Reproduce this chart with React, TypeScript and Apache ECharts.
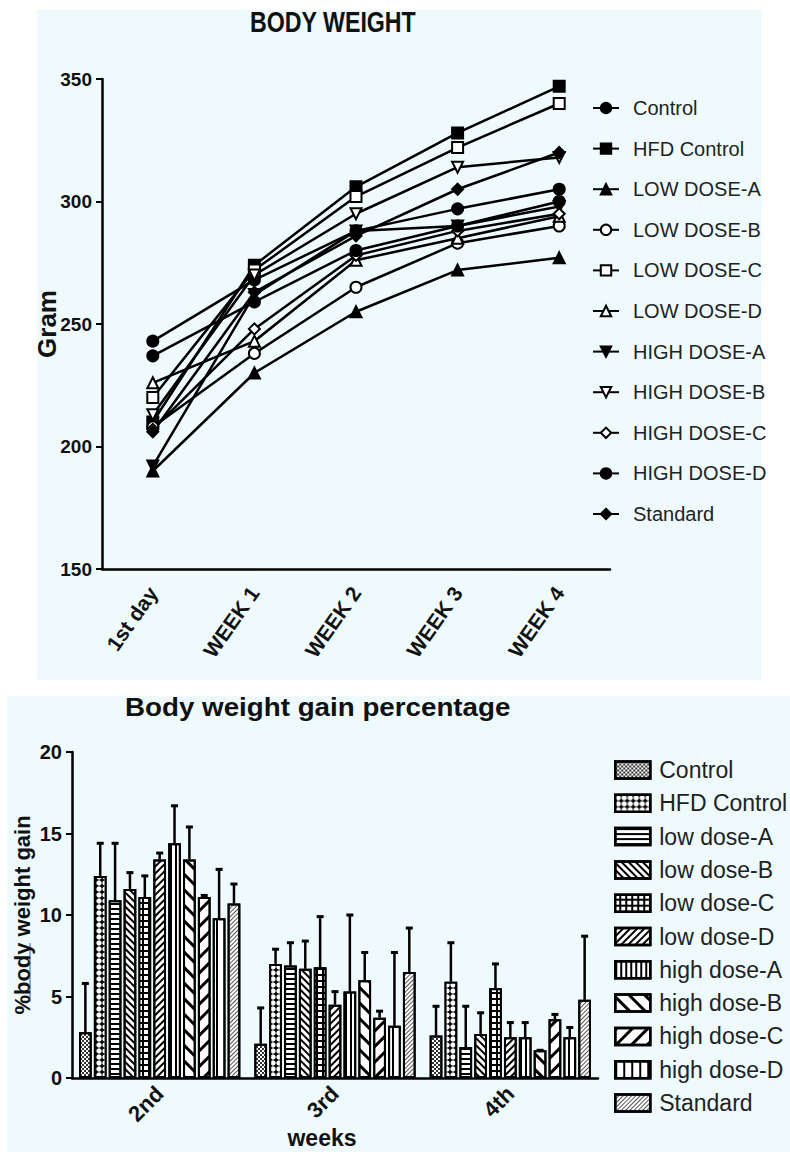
import React, { useEffect, useRef } from 'react';
import * as echarts from 'echarts';

// ---------- Top chart data: body weight (g) ----------
const timePoints = ['1st day', 'WEEK 1', 'WEEK 2', 'WEEK 3', 'WEEK 4'];
const lineGroups = ['Control', 'HFD Control', 'LOW DOSE-A', 'LOW DOSE-B', 'LOW DOSE-C', 'LOW DOSE-D', 'HIGH DOSE-A', 'HIGH DOSE-B', 'HIGH DOSE-C', 'HIGH DOSE-D', 'Standard'];
const wControl = [243, 268, 288, 297, 305];
const wHfdControl = [210, 274, 306, 328, 347];
const wLowA = [190, 230, 255, 272, 277];
const wLowB = [208, 238, 265, 283, 290];
const wLowC = [220, 272, 302, 322, 340];
const wLowD = [226, 243, 276, 285, 294];
const wHighA = [192, 262, 288, 290, 298];
const wHighB = [213, 270, 295, 314, 318];
const wHighC = [207, 248, 278, 288, 295];
const wHighD = [237, 259, 280, 290, 300];
const wStandard = [206, 263, 286, 305, 320];
const weightSeries = [wControl, wHfdControl, wLowA, wLowB, wLowC, wLowD, wHighA, wHighB, wHighC, wHighD, wStandard];
const weightAxis = { min: 150, max: 350, interval: 50 };

// ---------- Bottom chart data: body weight gain % ----------
const weekLabels = ['2nd', '3rd', '4th'];
const barGroups = ['Control', 'HFD Control', 'low dose-A', 'low dose-B', 'low dose-C', 'low dose-D', 'high dose-A', 'high dose-B', 'high dose-C', 'high dose-D', 'Standard'];
const gain2nd = [2.8, 12.4, 10.9, 11.6, 11.1, 13.4, 14.4, 13.4, 11.1, 9.8, 10.7];
const gain3rd = [2.1, 7.0, 6.9, 6.7, 6.8, 4.5, 5.3, 6.0, 3.7, 3.2, 6.5];
const gain4th = [2.6, 5.9, 1.9, 2.7, 5.5, 2.5, 2.5, 1.7, 3.6, 2.5, 4.8];
const err2nd = [3.0, 2.0, 3.5, 1.0, 1.3, 0.4, 2.3, 2.0, 0.1, 3.0, 1.2];
const err3rd = [2.2, 0.9, 1.4, 1.7, 3.1, 0.8, 4.7, 1.7, 0.4, 4.5, 2.7];
const err4th = [1.8, 2.4, 2.5, 1.3, 1.5, 0.9, 0.9, 0.0, 0.3, 0.6, 3.9];
const gainAxis = { min: 0, max: 20, interval: 5 };

const SANS = "'Liberation Sans', Arial, sans-serif";
const BG = '#eefafc';

const lineSymbols = [
  { symbol: 'circle', rotate: 0 },
  { symbol: 'rect', rotate: 0 },
  { symbol: 'triangle', rotate: 0 },
  { symbol: 'emptyCircle', rotate: 0 },
  { symbol: 'emptyRect', rotate: 0 },
  { symbol: 'emptyTriangle', rotate: 0 },
  { symbol: 'triangle', rotate: 180 },
  { symbol: 'emptyTriangle', rotate: 180 },
  { symbol: 'emptyDiamond', rotate: 0 },
  { symbol: 'circle', rotate: 0 },
  { symbol: 'diamond', rotate: 0 },
];

const PI = Math.PI;
const barFills = ['#fff', '#000', '#fff', '#fff', '#000', '#fff', '#fff', '#fff', '#fff', '#fff', '#fff'];
const decals: any[] = [
  { symbol: 'rect', symbolSize: 1, color: '#333', dashArrayX: [[2, 2], [0, 2, 2, 0]], dashArrayY: [2, 0] },
  { symbol: 'circle', symbolSize: 0.9, color: '#fff', dashArrayX: [6, 0], dashArrayY: [6, 0] },
  { symbol: 'rect', symbolSize: 1, color: '#000', dashArrayX: [1, 0], dashArrayY: [1.5, 2.5] },
  { symbol: 'rect', symbolSize: 1, color: '#000', dashArrayX: [1, 0], dashArrayY: [1.5, 2.5], rotation: PI / 4 },
  { symbol: 'rect', symbolSize: 1, color: '#fff', dashArrayX: [4, 1.2], dashArrayY: [4, 1.2] },
  { symbol: 'rect', symbolSize: 1, color: '#000', dashArrayX: [1, 0], dashArrayY: [1.5, 2.5], rotation: -PI / 4 },
  { symbol: 'rect', symbolSize: 1, color: '#000', dashArrayX: [1.5, 3], dashArrayY: [1, 0] },
  { symbol: 'rect', symbolSize: 1, color: '#000', dashArrayX: [1, 0], dashArrayY: [2.5, 8], rotation: PI / 4 },
  { symbol: 'rect', symbolSize: 1, color: '#000', dashArrayX: [1, 0], dashArrayY: [2.5, 8], rotation: -PI / 4 },
  { symbol: 'rect', symbolSize: 1, color: '#000', dashArrayX: [2, 6], dashArrayY: [1, 0] },
  { symbol: 'rect', symbolSize: 1, color: '#555', dashArrayX: [1, 0], dashArrayY: [1, 2], rotation: -PI / 4 },
];

function topOption(): any {
  return {
    animation: false,
    graphic: [
      { type: 'rect', z: -10, silent: true, shape: { x: 37, y: 10, width: 725, height: 670 }, style: { fill: BG } },
      { type: 'text', x: 250, y: 22, scaleX: 0.8, style: { text: 'BODY WEIGHT', fontFamily: SANS, fontWeight: 'bold', fontSize: 29, fill: '#111', textAlign: 'left', textVerticalAlign: 'middle' } },
    ],
    grid: { left: 102, top: 79, width: 508, height: 490, outerBoundsMode: 'none', containLabel: false },
    legend: {
      orient: 'vertical', left: 587, top: 91, itemWidth: 26, itemHeight: 13, itemGap: 16.6,
      data: lineGroups,
      textStyle: { fontFamily: SANS, fontSize: 20, color: '#222', lineHeight: 24, padding: [0, 0, 0, 9] },
    },
    xAxis: {
      type: 'category', data: timePoints, boundaryGap: true,
      axisLine: { lineStyle: { color: '#000', width: 2.5 } },
      axisTick: { alignWithLabel: true, length: 6, lineStyle: { color: '#000', width: 2 } },
      axisLabel: { rotate: 55, fontFamily: SANS, fontWeight: 'bold', fontSize: 21, color: '#111', margin: 20 },
      splitLine: { show: false },
    },
    yAxis: {
      type: 'value', ...weightAxis,
      axisLine: { show: true, lineStyle: { color: '#000', width: 2.5 } },
      axisTick: { show: true, length: 6, lineStyle: { color: '#000', width: 2 } },
      axisLabel: { fontFamily: SANS, fontWeight: 'bold', fontSize: 19, color: '#111', margin: 10 },
      splitLine: { show: false },
      name: 'Gram', nameLocation: 'middle', nameGap: 42, nameMoveOverlap: false,
      nameTextStyle: { fontFamily: SANS, fontWeight: 'bold', fontSize: 26, color: '#111' },
    },
    series: lineGroups.map((name, i) => ({
      name, type: 'line', data: weightSeries[i],
      symbol: lineSymbols[i].symbol, symbolRotate: lineSymbols[i].rotate, symbolSize: 11,
      itemStyle: { color: '#000', borderColor: '#000', borderWidth: 2 },
      lineStyle: { color: '#000', width: 2.5 },
    })),
  };
}

function bottomOption(): any {
  const n = barGroups.length;
  const catGap = 0.08;
  const barGap = 0.17;
  const valuesFor = (i: number) => [gain2nd[i], gain3rd[i], gain4th[i]];
  const errsFor = (i: number) => [err2nd[i], err3rd[i], err4th[i]];
  const bars = barGroups.map((name, i) => ({
    name, type: 'bar', data: valuesFor(i), barCategoryGap: '8%', barGap: '17%', z: 2,
    itemStyle: { color: barFills[i], borderColor: '#000', borderWidth: 2, decal: decals[i] },
  }));
  const errs = barGroups.map((name, i) => ({
    name: 'err-' + name, type: 'custom', z: 3,
    data: valuesFor(i).map((v, k) => [k, v, v + errsFor(i)[k]]),
    renderItem: (params: any, api: any) => {
      const cat = api.value(0);
      const p0 = api.coord([cat, api.value(1)]);
      const p1 = api.coord([cat, api.value(2)]);
      const band = api.size([1, 0])[0];
      const total = band * (1 - catGap);
      const w = total / (n + (n - 1) * barGap);
      const x = p0[0] - total / 2 + i * w * (1 + barGap) + w / 2;
      return {
        type: 'group',
        children: [
          { type: 'line', shape: { x1: x, y1: p0[1], x2: x, y2: p1[1] }, style: { stroke: '#000', lineWidth: 2.5 } },
          { type: 'line', shape: { x1: x - 3.5, y1: p1[1], x2: x + 3.5, y2: p1[1] }, style: { stroke: '#000', lineWidth: 3 } },
        ],
      };
    },
  }));
  return {
    animation: false,
    graphic: [
      { type: 'rect', z: -10, silent: true, shape: { x: 7, y: 8, width: 783, height: 456 }, style: { fill: BG } },
      { type: 'text', x: 125, y: 19, scaleX: 1.11, style: { text: 'Body weight gain percentage', fontFamily: SANS, fontWeight: 'bold', fontSize: 25, fill: '#111', textAlign: 'left', textVerticalAlign: 'middle' } },
      { type: 'line', shape: { x1: 30, y1: 255, x2: 30, y2: 314 }, style: { stroke: '#6f8fc4', lineWidth: 1.5 } },
    ],
    grid: { left: 72, top: 64, width: 526, height: 326, outerBoundsMode: 'none', containLabel: false },
    legend: {
      orient: 'vertical', left: 609, top: 65.5, itemWidth: 35, itemHeight: 17, itemGap: 10.3,
      data: barGroups, icon: 'rect',
      itemStyle: { borderColor: '#000', borderWidth: 2.5 },
      textStyle: { fontFamily: SANS, fontSize: 23, color: '#222', lineHeight: 23, padding: [0, 0, 0, 4] },
    },
    xAxis: {
      type: 'category', data: weekLabels, boundaryGap: true,
      axisLine: { lineStyle: { color: '#000', width: 2.5 } },
      axisTick: { alignWithLabel: true, length: 7, lineStyle: { color: '#000', width: 2.5 } },
      axisLabel: { rotate: 45, fontFamily: SANS, fontWeight: 'bold', fontSize: 22, color: '#111', margin: 12 },
      name: 'weeks', nameLocation: 'middle', nameGap: 48, nameMoveOverlap: false,
      nameTextStyle: { fontFamily: SANS, fontWeight: 'bold', fontSize: 23, color: '#111', padding: [0, 26, 0, 0] },
    },
    yAxis: {
      type: 'value', ...gainAxis,
      axisLine: { show: true, lineStyle: { color: '#000', width: 2.5 } },
      axisTick: { show: true, length: 6, lineStyle: { color: '#000', width: 2 } },
      axisLabel: { fontFamily: SANS, fontWeight: 'bold', fontSize: 20, color: '#111', margin: 10 },
      splitLine: { show: false },
      name: '%body weight gain', nameLocation: 'middle', nameGap: 39, nameMoveOverlap: false,
      nameTextStyle: { fontFamily: SANS, fontWeight: 'bold', fontSize: 22, color: '#111' },
    },
    series: [...bars, ...errs],
  };
}

export default function App() {
  const topRef = useRef<HTMLDivElement>(null);
  const botRef = useRef<HTMLDivElement>(null);
  useEffect(() => {
    const c1 = echarts.init(topRef.current!, undefined, { renderer: 'svg' });
    const c2 = echarts.init(botRef.current!, undefined, { renderer: 'svg' });
    c1.setOption(topOption());
    c2.setOption(bottomOption());
    return () => { c1.dispose(); c2.dispose(); };
  }, []);
  return (
    <div style={{ position: 'absolute', left: 0, top: 0, width: 790, height: 1152, background: '#fff', overflow: 'hidden' }}>
      <div ref={topRef} style={{ position: 'absolute', left: 0, top: 0, width: 790, height: 688 }} />
      <div ref={botRef} style={{ position: 'absolute', left: 0, top: 688, width: 790, height: 464 }} />
    </div>
  );
}
